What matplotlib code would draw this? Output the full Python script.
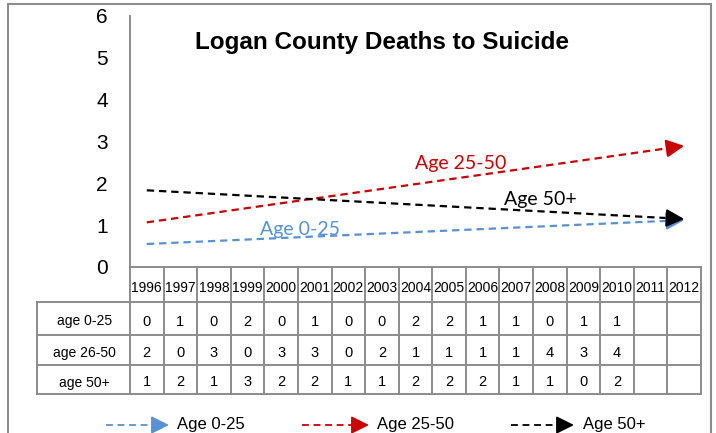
import numpy as np
import matplotlib
matplotlib.use("Agg")
import matplotlib.pyplot as plt

# ---- data ----
years = ["1996", "1997", "1998", "1999", "2000", "2001", "2002", "2003", "2004",
         "2005", "2006", "2007", "2008", "2009", "2010", "2011", "2012"]
row_labels = ["age 0-25", "age 26-50", "age 50+"]
age_0_25 = [0, 1, 0, 2, 0, 1, 0, 0, 2, 2, 1, 1, 0, 1, 1]
age_26_50 = [2, 0, 3, 0, 3, 3, 0, 2, 1, 1, 1, 1, 4, 3, 4]
age_50p = [1, 2, 1, 3, 2, 2, 1, 1, 2, 2, 2, 1, 1, 0, 2]
series = [age_0_25, age_26_50, age_50p]
trend_names = ["Age 0-25", "Age 25-50", "Age 50+"]
colors = ["#5592d8", "#cc0000", "#000000"]
yticks = [0, 1, 2, 3, 4, 5, 6]
title = "Logan County Deaths to Suicide"

W, H = 716, 433
fig = plt.figure(figsize=(W / 100, H / 100), dpi=100)
fig.patch.set_facecolor("white")

# overlay in pixel coordinates
ov = fig.add_axes([0, 0, 1, 1], zorder=0)
ov.set_xlim(0, W)
ov.set_ylim(H, 0)
ov.axis("off")

gray = "#8c8c8c"
ov.plot([8, 8, 711, 711], [440, 4, 4, 440], color=gray, lw=1.5, solid_joinstyle="miter")

# main plot area
x0, x1 = 130, 701
ytop, ybot = 16, 267
ax = fig.add_axes([x0 / W, (H - ybot) / H, (x1 - x0) / W, (ybot - ytop) / H], zorder=2)
ax.patch.set_visible(False)
n = len(years)
ax.set_xlim(-0.5, n - 0.5)
ax.set_ylim(0, 6)
ax.set_yticks(yticks)
ax.set_yticklabels([str(v) for v in yticks], fontsize=15, family="Liberation Sans")
ax.tick_params(axis="y", length=0, pad=16)
ax.set_xticks([])
for s in ["top", "right", "bottom"]:
    ax.spines[s].set_visible(False)
ax.spines["left"].set_color(gray)
ax.spines["left"].set_linewidth(1.4)

HEAD = "-|>,head_length=0.6,head_width=0.3"


def dashed_arrow(axis, xa, ya, xb, yb, c, lw, dash, back):
    # dashed shaft + solid arrow head
    axis.plot([xa, xb - back * (xb - xa)], [ya, yb - back * (yb - ya)],
              color=c, lw=lw, linestyle=(0, dash), solid_capstyle="butt",
              dash_capstyle="butt")
    fx = xb - back * (xb - xa)
    fy = yb - back * (yb - ya)
    axis.annotate("", xy=(xb, yb), xytext=(fx, fy),
                  arrowprops=dict(arrowstyle=HEAD, mutation_scale=18, color=c,
                                  lw=lw, shrinkA=0, shrinkB=0))


# trendlines (linear fit of each series, forecast to 2012)
xs = np.arange(len(age_0_25))
for vals, c in zip(series, colors):
    k, b = np.polyfit(xs, vals, 1)
    xa, xb = 0, n - 1
    back = 0.5 / (xb - xa)
    dashed_arrow(ax, xa, k * xa + b, xb, k * xb + b, c, 1.6, (3.3, 2.2), back)

# trend labels
lab_pos = [(300, 229), (461, 163), (540, 199)]
for (px, py), t, c in zip(lab_pos, trend_names, colors):
    ov.text(px, py, t, color=c, fontsize=14, family="Lato", ha="center", va="center")

# title
fig.text(382 / W, 1 - 42 / H, title, fontsize=17.5, fontweight="bold",
         family="Liberation Sans", ha="center", va="center")

# data table
cw = (x1 - x0) / n
row_y = [267, 302, 335, 365, 394]
lx = 37
lwt = 1.4
ov.plot([x0, x1], [267, 267], color=gray, lw=lwt)
for yy in row_y[1:]:
    ov.plot([lx, x1], [yy, yy], color=gray, lw=lwt)
ov.plot([lx, lx], [302, 394], color=gray, lw=lwt)
for i in range(n + 1):
    xx = x0 + i * cw
    ov.plot([xx, xx], [267, 394], color=gray, lw=lwt)
for i, yr in enumerate(years):
    ov.text(x0 + (i + 0.5) * cw, (267 + 302) / 2 + 4, yr, fontsize=10,
            family="Liberation Sans", ha="center", va="center")
for r, (lab, vals) in enumerate(zip(row_labels, series)):
    yc = (row_y[r + 1] + row_y[r + 2]) / 2 + 3
    ov.text((lx + x0) / 2 + 1, yc, lab, fontsize=10, family="Liberation Sans",
            ha="center", va="center")
    for i, v in enumerate(vals):
        ov.text(x0 + (i + 0.5) * cw, yc, str(v), fontsize=10.5,
                family="Liberation Sans", ha="center", va="center")

# legend
leg = [(106, 169, 177), (302, 369, 377), (511, 574, 583)]
ly = 425
for (a, bx, tx), t, c in zip(leg, trend_names, colors):
    dashed_arrow(ov, a, ly, bx, ly, c, 1.3, (3.8, 2.6), 16 / (bx - a))
    ov.text(tx, ly, t, fontsize=12, family="Liberation Sans", ha="left", va="center")

fig.savefig("out.png", dpi=100, facecolor="white")
